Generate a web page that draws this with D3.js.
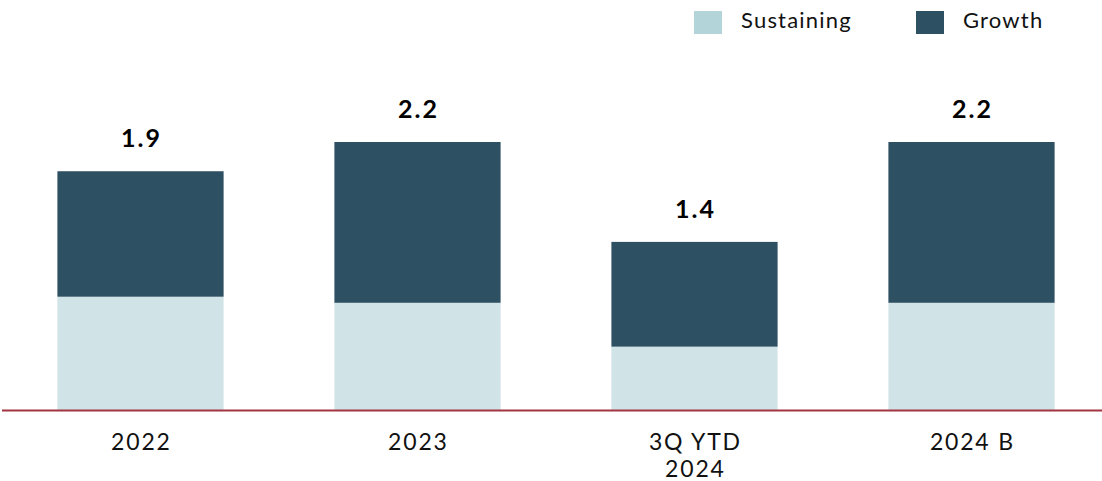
<!DOCTYPE html>
<html>
<head>
<meta charset="utf-8">
<script src="https://cdn.jsdelivr.net/npm/d3@7"></script>
<style>
html,body{margin:0;padding:0;background:#fff;}
svg{display:block;}
</style>
</head>
<body>
<svg id="chart" width="1102" height="481"></svg>
<script>
const categories = ["2022", "2023", "3Q YTD\n2024", "2024 B"];
const sustaining = [0.93, 0.88, 0.52, 0.88];
const growth = [1.03, 1.32, 0.86, 1.32];
const totalLabels = ["1.9", "2.2", "1.4", "2.2"];
const seriesNames = ["Sustaining", "Growth"];

const colors = {Sustaining: "#d0e4e7", Growth: "#2e5063"};
const legendColors = {Sustaining: "#b3d5d9", Growth: "#2e5063"};
const font = "Lato, 'Noto Sans', sans-serif";

const svg = d3.select("#chart");
const x = d3.scaleBand().domain(categories).range([2, 1110]).paddingInner(0.4).paddingOuter(0.2);
const y = d3.scaleLinear().domain([0, 2.2]).range([410, 142]);

const rows = categories.map((c, i) => ({cat: c, Sustaining: sustaining[i], Growth: growth[i], label: totalLabels[i]}));
const stacked = d3.stack().keys(seriesNames)(rows);

svg.append("g").selectAll("g").data(stacked).join("g")
  .attr("fill", d => colors[d.key])
  .selectAll("rect").data(d => d).join("rect")
  .attr("x", d => x(d.data.cat))
  .attr("width", x.bandwidth())
  .attr("y", d => y(d[1]))
  .attr("height", d => y(d[0]) - y(d[1]));

// total labels
svg.append("g").selectAll("text").data(rows).join("text")
  .attr("x", d => x(d.cat) + x.bandwidth() / 2 + 1)
  .attr("y", d => y(d.Sustaining + d.Growth) - 24)
  .attr("text-anchor", "middle")
  .attr("font-family", font)
  .attr("font-weight", "bold")
  .attr("font-size", 25)
  .attr("letter-spacing", 2)
  .attr("fill", "#000")
  .text(d => d.label);

// baseline
svg.append("line")
  .attr("x1", 2).attr("x2", 1102)
  .attr("y1", y(0) + 0.5).attr("y2", y(0) + 0.5)
  .attr("stroke", "#a23541").attr("stroke-width", 2);

// x axis labels
const xl = svg.append("g").selectAll("text").data(categories).join("text")
  .attr("x", d => x(d) + x.bandwidth() / 2 + 0.9)
  .attr("y", 450)
  .attr("text-anchor", "middle")
  .attr("font-family", font)
  .attr("font-size", 23)
  .attr("letter-spacing", 1.8)
  .attr("fill", "#111");
xl.selectAll("tspan").data(d => d.split("\n")).join("tspan")
  .attr("x", function() { return d3.select(this.parentNode).attr("x"); })
  .attr("dy", (d, i) => i === 0 ? 0 : 27)
  .text(d => d);

// legend
const legendX = [694, 916];
const lg = svg.append("g").selectAll("g").data(seriesNames).join("g")
  .attr("transform", (d, i) => `translate(${legendX[i]},11)`);
lg.append("rect").attr("width", 28).attr("height", 23).attr("fill", d => legendColors[d]);
lg.append("text").attr("x", 47).attr("y", 17)
  .attr("font-family", font).attr("font-size", 22).attr("fill", "#111")
  .attr("letter-spacing", 1.2)
  .text(d => d);
</script>
</body>
</html>
